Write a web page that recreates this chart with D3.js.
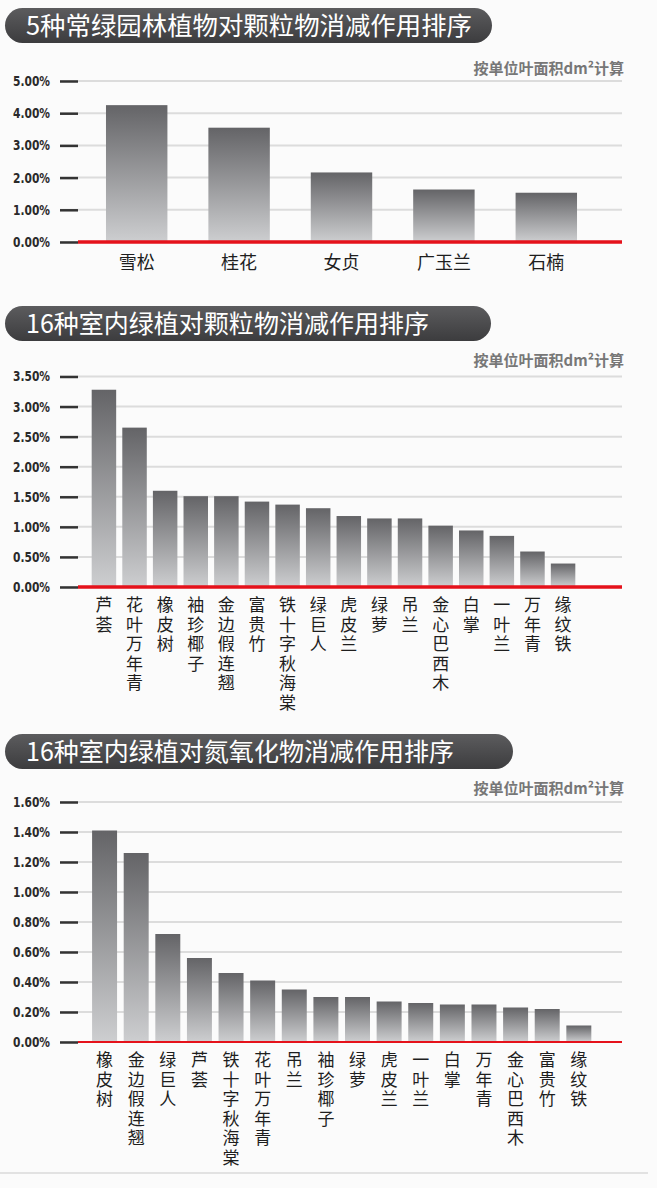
<!DOCTYPE html>
<html>
<head>
<meta charset="utf-8">
<script src="https://cdn.jsdelivr.net/npm/d3@7"></script>
<style>
  body { margin: 0; background: #fbfbfb; }
  svg { display: block; }
  .tick-label { font-family: "Liberation Sans Narrow", "DejaVu Sans Condensed", sans-serif; font-weight: bold; font-size: 14px; fill: #2a2a2a; }
  .cat { font-family: "Noto Sans CJK SC", sans-serif; fill: #1e1e1e; }
  .vert { writing-mode: vertical-rl; text-orientation: upright; letter-spacing: 2.6px; }
  .title { font-family: "Noto Sans CJK SC", sans-serif; fill: #fff; font-size: 25px; }
  .note { font-family: "Noto Sans CJK SC", sans-serif; fill: #777; font-size: 15px; font-weight: bold; }
</style>
</head>
<body>
<svg id="chart" width="657" height="1188"></svg>
<script>
// data (values in %)
const title1 = "5种常绿园林植物对颗粒物消减作用排序";
const trees = ["雪松", "桂花", "女贞", "广玉兰", "石楠"];
const treePM = [4.25, 3.55, 2.16, 1.63, 1.53];
const ticks1 = [0, 1, 2, 3, 4, 5];

const title2 = "16种室内绿植对颗粒物消减作用排序";
const plantsPM = ["芦荟", "花叶万年青", "橡皮树", "袖珍椰子", "金边假连翘", "富贵竹", "铁十字秋海棠", "绿巨人",
  "虎皮兰", "绿萝", "吊兰", "金心巴西木", "白掌", "一叶兰", "万年青", "缘纹铁"];
const plantsPMValues = [3.28, 2.65, 1.60, 1.51, 1.51, 1.42, 1.37, 1.31, 1.18, 1.14, 1.14, 1.02, 0.94, 0.85, 0.59, 0.39];
const ticks2 = [0, 0.5, 1, 1.5, 2, 2.5, 3, 3.5];

const title3 = "16种室内绿植对氮氧化物消减作用排序";
const plantsNOx = ["橡皮树", "金边假连翘", "绿巨人", "芦荟", "铁十字秋海棠", "花叶万年青", "吊兰", "袖珍椰子",
  "绿萝", "虎皮兰", "一叶兰", "白掌", "万年青", "金心巴西木", "富贵竹", "缘纹铁"];
const plantsNOxValues = [1.41, 1.26, 0.72, 0.56, 0.46, 0.41, 0.35, 0.30, 0.30, 0.27, 0.26, 0.25, 0.25, 0.23, 0.22, 0.11];
const ticks3 = [0, 0.2, 0.4, 0.6, 0.8, 1.0, 1.2, 1.4, 1.6];

const note = "按单位叶面积dm²计算";

const svg = d3.select("#chart");
svg.append("rect").attr("width", 657).attr("height", 1188).attr("fill", "#fbfbfb");

const defs = svg.append("defs");
const barGrad = defs.append("linearGradient").attr("id", "barGrad")
  .attr("x1", 0).attr("y1", 0).attr("x2", 0).attr("y2", 1);
barGrad.append("stop").attr("offset", "0%").attr("stop-color", "#646467");
barGrad.append("stop").attr("offset", "100%").attr("stop-color", "#cdced0");
const pillGrad = defs.append("linearGradient").attr("id", "pillGrad")
  .attr("x1", 0).attr("y1", 0).attr("x2", 0).attr("y2", 1);
pillGrad.append("stop").attr("offset", "0%").attr("stop-color", "#5c5c5e");
pillGrad.append("stop").attr("offset", "100%").attr("stop-color", "#3c3c3e");

const fmt = v => d3.format(".2f")(v) + "%";

function drawChart(c) {
  const g = svg.append("g");

  // title pill
  g.append("rect")
    .attr("x", 5).attr("y", c.pillY).attr("width", c.pillW).attr("height", 35)
    .attr("rx", 17.5).attr("fill", "url(#pillGrad)");
  g.append("text").attr("class", "title")
    .attr("x", 26).attr("y", c.pillY + 27)
    .attr("textLength", c.titleLen).attr("lengthAdjust", "spacingAndGlyphs")
    .text(c.title);

  g.append("text").attr("class", "note")
    .attr("x", 624).attr("y", c.noteY).attr("text-anchor", "end")
    .text(note);

  const y = d3.scaleLinear().domain([0, d3.max(c.ticks)]).range([c.base, c.top]);
  const x = d3.scaleBand().domain(c.names).range(c.xr)
    .paddingInner(c.padIn).paddingOuter(c.padOut);

  // grid lines
  g.append("g").selectAll("line").data(c.ticks).join("line")
    .attr("x1", 60).attr("x2", 622)
    .attr("y1", d => y(d)).attr("y2", d => y(d))
    .attr("stroke", "#dcdcdc").attr("stroke-width", 2);

  // bars
  g.append("g").selectAll("rect").data(c.values).join("rect")
    .attr("x", (d, i) => x(c.names[i]))
    .attr("width", x.bandwidth())
    .attr("y", d => y(d))
    .attr("height", d => c.base - y(d))
    .attr("fill", "url(#barGrad)");

  // axis with short dark ticks
  const axis = g.append("g").attr("transform", "translate(78,0)")
    .call(d3.axisLeft(y).tickValues(c.ticks).tickSize(18).tickPadding(10).tickFormat(fmt));
  axis.select(".domain").remove();
  axis.selectAll(".tick line").attr("stroke", "#333").attr("stroke-width", 2.5);
  axis.selectAll(".tick text").attr("class", "tick-label").attr("fill", null)
    .attr("font-family", null).attr("font-size", null)
    .attr("textLength", 37).attr("lengthAdjust", "spacingAndGlyphs");

  // red baseline
  g.append("line").attr("x1", 78).attr("x2", 622)
    .attr("y1", c.base).attr("y2", c.base)
    .attr("stroke", "#e5121b").attr("stroke-width", c.baseW);

  // category labels
  const labels = g.append("g").selectAll("text").data(c.names).join("text")
    .attr("class", c.vertical ? "cat vert" : "cat")
    .attr("font-size", c.catSize)
    .attr("x", d => x(d) + x.bandwidth() / 2)
    .attr("y", c.labelY)
    .text(d => d);
  if (!c.vertical) labels.attr("text-anchor", "middle");
}

drawChart({
  title: title1, titleLen: 446, pillY: 8, pillW: 487, noteY: 74,
  names: trees, values: treePM, ticks: ticks1,
  base: 242, top: 81, xr: [85.5, 597.5], padIn: 0.4, padOut: 0.2,
  baseW: 3.5, catSize: 18, labelY: 269, vertical: false
});

drawChart({
  title: title2, titleLen: 403, pillY: 306, pillW: 486, noteY: 366,
  names: plantsPM, values: plantsPMValues, ticks: ticks2,
  base: 587, top: 376.5, xr: [82.5, 584.5], padIn: 0.2, padOut: 0.3,
  baseW: 3.5, catSize: 17, labelY: 596, vertical: true
});

drawChart({
  title: title3, titleLen: 428, pillY: 734, pillW: 508, noteY: 794,
  names: plantsNOx, values: plantsNOxValues, ticks: ticks3,
  base: 1042, top: 802, xr: [82.6, 600.8], padIn: 0.21, padOut: 0.3,
  baseW: 2, catSize: 17, labelY: 1051, vertical: true
});

// footer rule
svg.append("line").attr("x1", 0).attr("x2", 648).attr("y1", 1173).attr("y2", 1173)
  .attr("stroke", "#e2e2e2").attr("stroke-width", 2);
</script>
</body>
</html>
